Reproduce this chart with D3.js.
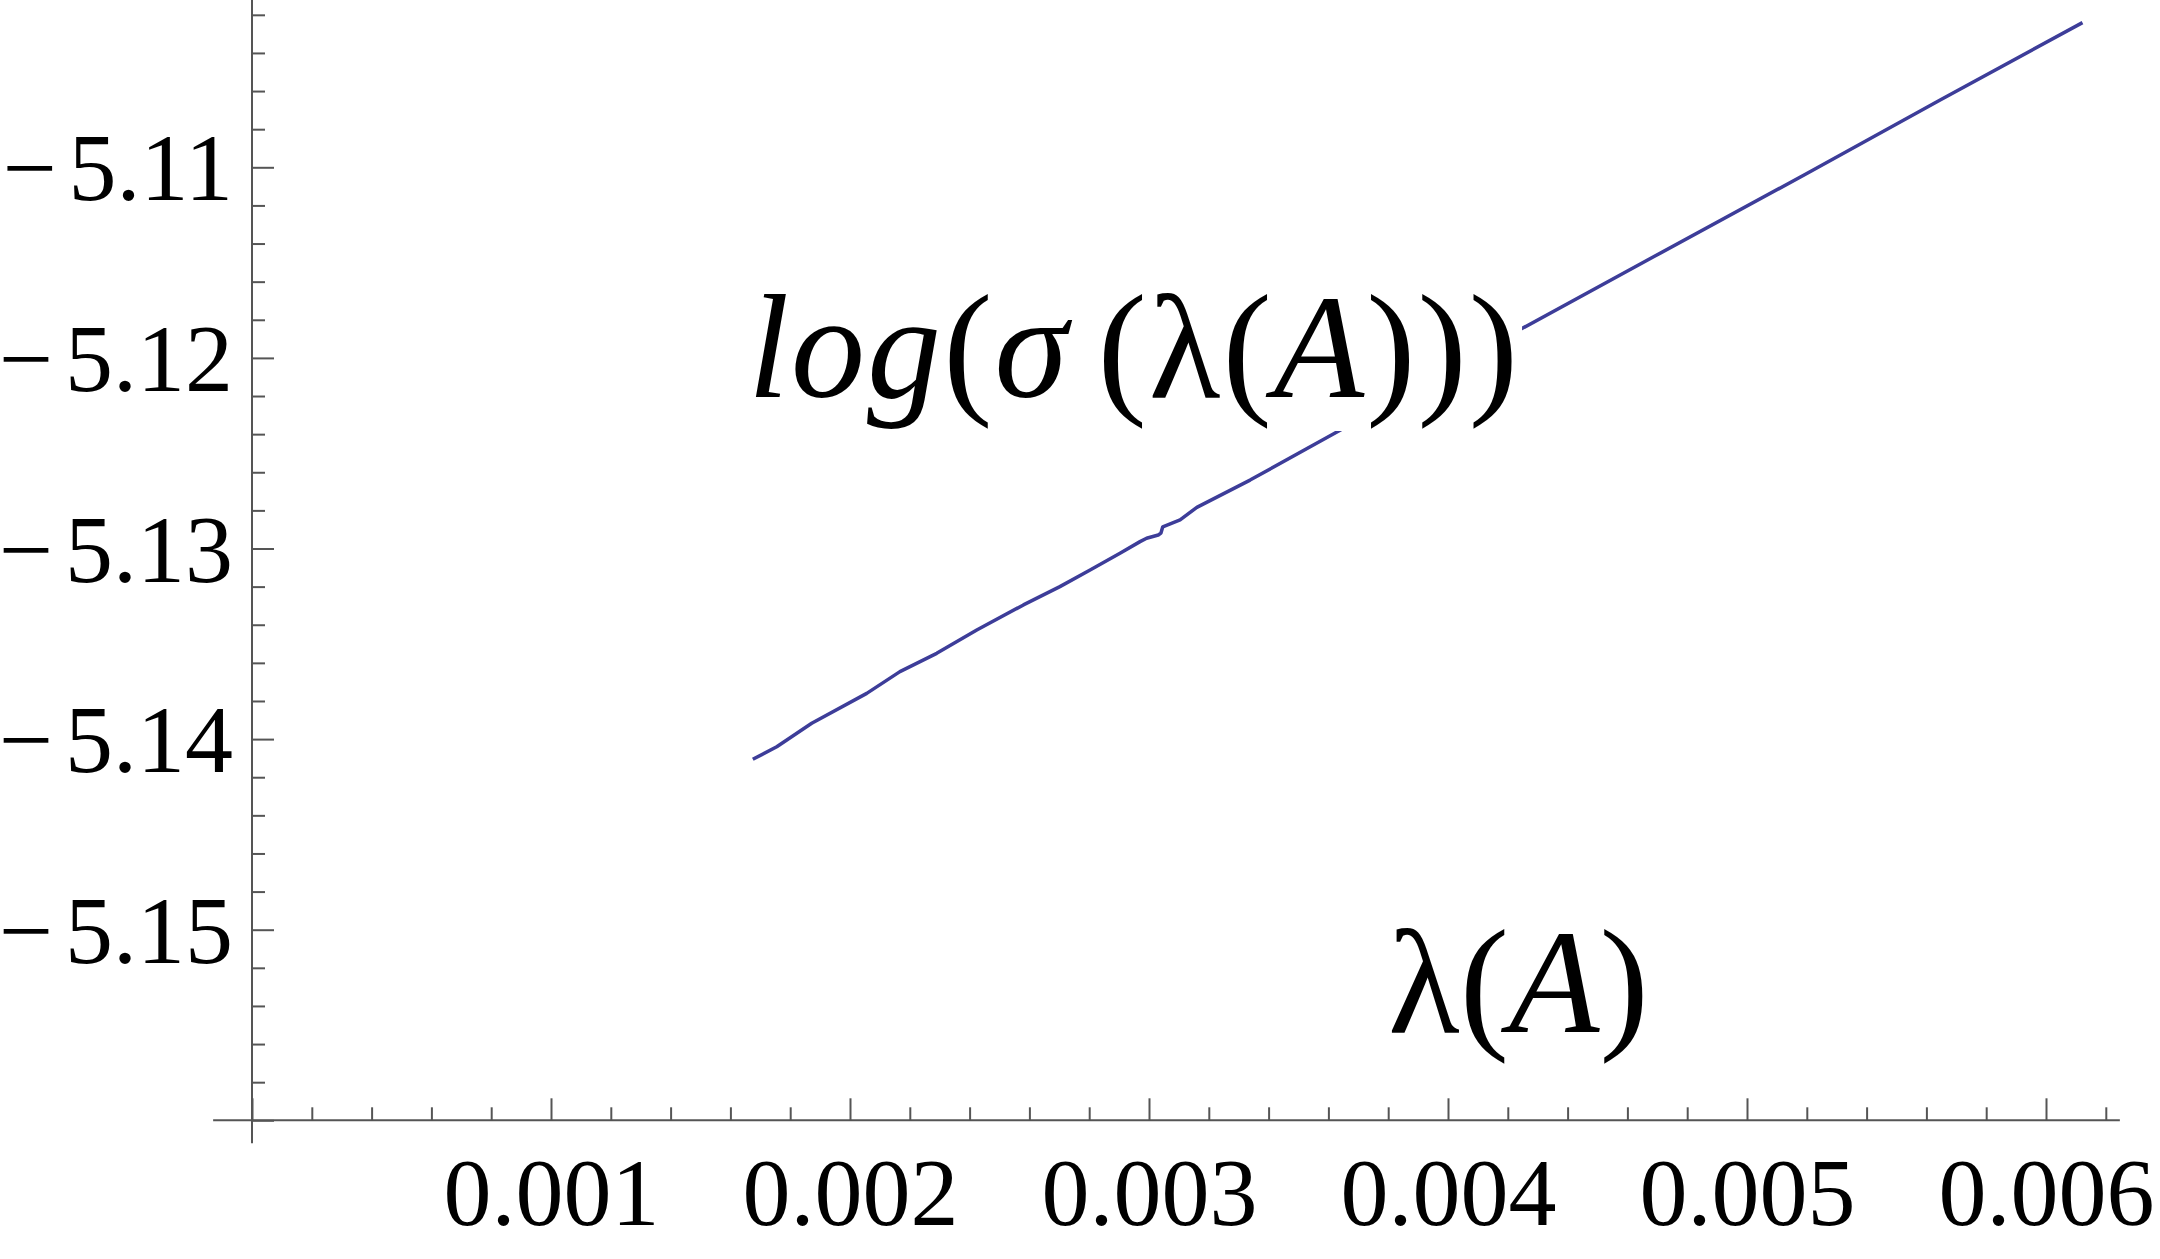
<!DOCTYPE html>
<html>
<head>
<meta charset="utf-8">
<script src="https://cdn.jsdelivr.net/npm/d3@7"></script>
<style>
  body { margin: 0; background: white; }
  svg { display: block; }
  svg text { font-family: "Liberation Serif", "Times New Roman", serif; }
</style>
</head>
<body>
<script>
/* log(sigma(lambda(A))) against lambda(A) */

var lambdaA = [0.001675, 0.001755, 0.001872, 0.002056, 0.002167, 0.002290, 0.002424,
               0.002580, 0.002702, 0.002803, 0.002903, 0.002970, 0.002992, 0.003031,
               0.003040, 0.003046, 0.003104, 0.003160, 0.003338, 0.003639, 0.004238,
               0.004686, 0.005197, 0.005646, 0.006122];
var logSigma = [-5.14106, -5.14040, -5.13917, -5.13760, -5.13646, -5.13550, -5.13428,
                -5.13296, -5.13200, -5.13113, -5.13025, -5.12964, -5.12946, -5.12929,
                -5.12919, -5.12886, -5.12850, -5.12784, -5.12641, -5.12380, -5.11854,
                -5.11471, -5.11035, -5.10647, -5.10241];

var xMajor = [0, 0.001, 0.002, 0.003, 0.004, 0.005, 0.006];
var yMajor = [-5.11, -5.12, -5.13, -5.14, -5.15, -5.16];

function draw() {

	var width = 2160;
	var height = 1259;
	var serif = '"Liberation Serif", "Times New Roman", serif';

	// scales
	var xScale = d3.scaleLinear()
				.domain([0, 0.006])
				.range([252, 2046]);

	var yScale = d3.scaleLinear()
				.domain([-5.11, -5.15])
				.range([167.3, 929.7]);

	var xMinor = d3.range(1, 32).map(i => i * 0.0002).filter(v => Math.abs(v * 1000 - Math.round(v * 1000)) > 1e-6);
	var yMinor = d3.range(0, 30).map(i => -5.16 + i * 0.002).filter(v => Math.abs(v * 100 - Math.round(v * 100)) > 1e-6);

	var svg = d3.select("body")
				.append("svg")
					.attr("width", width)
					.attr("height", height);

	var axisColor = "#555";
	var yOrigin = yScale(-5.16);
	var xOrigin = xScale(0);

	// axis lines
	svg.append("line")
		.attr("x1", xScale(-0.00013)).attr("x2", xScale(0.006247))
		.attr("y1", yOrigin).attr("y2", yOrigin)
		.attr("stroke", axisColor).attr("stroke-width", 2);
	svg.append("line")
		.attr("x1", xOrigin).attr("x2", xOrigin)
		.attr("y1", 0).attr("y2", yScale(-5.1612))
		.attr("stroke", axisColor).attr("stroke-width", 2);

	// x axis: major ticks with labels, minor ticks
	var xAxis = d3.axisBottom(xScale)
				.tickValues(xMajor)
				.tickSizeInner(-22)
				.tickSizeOuter(0)
				.tickFormat(d => d === 0 ? "" : d3.format(".3f")(d));
	var gx = svg.append("g")
		.attr("transform", "translate(0," + yOrigin + ")")
		.call(xAxis)
		.attr("font-family", serif)
		.attr("font-size", 96);
	gx.select(".domain").remove();
	gx.selectAll("line").attr("stroke", axisColor).attr("stroke-width", 2);
	gx.selectAll("text")
		.attr("y", 105).attr("dy", null)
		.attr("fill", "black");

	var gxm = svg.append("g")
		.attr("transform", "translate(0," + yOrigin + ")")
		.call(d3.axisBottom(xScale).tickValues(xMinor).tickSizeInner(-13).tickSizeOuter(0).tickFormat(""));
	gxm.select(".domain").remove();
	gxm.selectAll("line").attr("stroke", axisColor).attr("stroke-width", 2);

	// y axis
	var yAxis = d3.axisLeft(yScale)
				.tickValues(yMajor)
				.tickSizeInner(-22)
				.tickSizeOuter(0)
				.tickPadding(19)
				.tickFormat("");
	var gy = svg.append("g")
		.attr("transform", "translate(" + xOrigin + ",0)")
		.call(yAxis)
		.attr("font-family", serif)
		.attr("font-size", 96);
	gy.select(".domain").remove();
	gy.selectAll("line").attr("stroke", axisColor).attr("stroke-width", 2);
	gy.selectAll(".tick")
		.filter(d => d > -5.155)
		.select("text")
		.attr("dy", "0.34em")
		.attr("fill", "black")
		.each(function(d) {
			var t = d3.select(this);
			t.append("tspan").text("\u2212");
			t.append("tspan").attr("dx", 12).text(d3.format(".2f")(-d));
		});

	var gym = svg.append("g")
		.attr("transform", "translate(" + xOrigin + ",0)")
		.call(d3.axisLeft(yScale).tickValues(yMinor).tickSizeInner(-13).tickSizeOuter(0).tickFormat(""));
	gym.select(".domain").remove();
	gym.selectAll("line").attr("stroke", axisColor).attr("stroke-width", 2);

	// the curve
	var points = lambdaA.map((x, i) => [x, logSigma[i]]);
	var line = d3.line()
				.x(d => xScale(d[0]))
				.y(d => yScale(d[1]));
	svg.append("path")
		.datum(points)
		.attr("d", line)
		.attr("fill", "none")
		.attr("stroke", "#3d3d99")
		.attr("stroke-width", 3.5)
		.attr("stroke-linejoin", "round");

	// curve label on a white background
	var labelG = svg.append("g");
	var bg = labelG.append("rect").attr("fill", "white");
	var label = labelG.append("text")
		.attr("x", 748)
		.attr("y", 397)
		.style("font-size", "148px")
		.style("letter-spacing", "2px")
		.attr("fill", "black");
	label.append("tspan").style("font-style", "italic").text("log");
	label.append("tspan").text("(");
	label.append("tspan").style("font-style", "italic").text("\u03c3");
	label.append("tspan").attr("dx", 28).text("(");
	label.append("tspan").text("\u03bb");
	label.append("tspan").text("(");
	label.append("tspan").style("font-style", "italic").text("A");
	label.append("tspan").text(")))");
	var bb = label.node().getBBox();
	bg.attr("x", bb.x - 4).attr("y", bb.y - 4)
		.attr("width", bb.width + 6).attr("height", bb.height + 6);

	// axis label
	var xLabel = svg.append("text")
		.attr("x", 1388)
		.attr("y", 1032)
		.style("font-size", "148px")
		.attr("fill", "black");
	xLabel.append("tspan").text("\u03bb(");
	xLabel.append("tspan").style("font-style", "italic").text("A");
	xLabel.append("tspan").text(")");
}

draw();
</script>
</body>
</html>
